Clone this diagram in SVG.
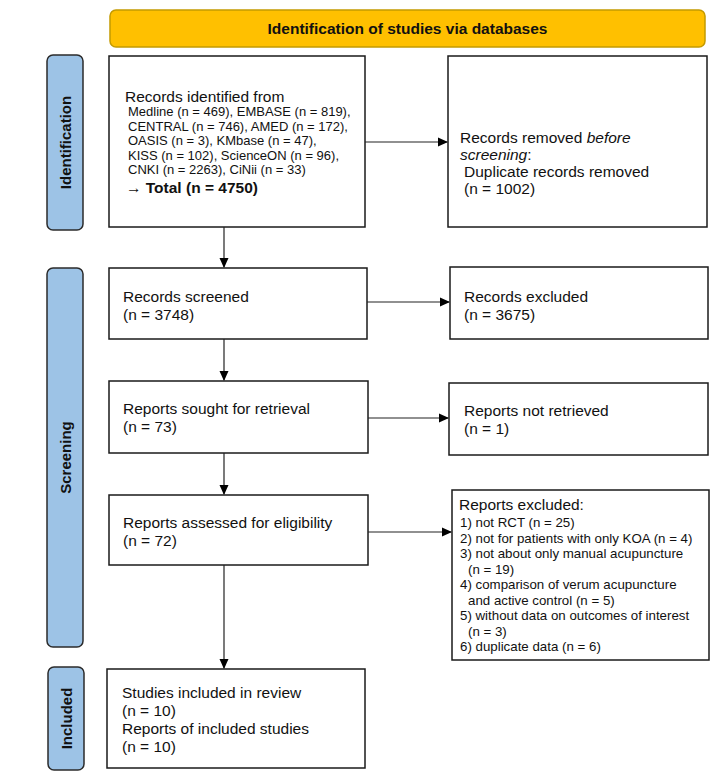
<svg xmlns="http://www.w3.org/2000/svg" width="721" height="778" viewBox="0 0 721 778">
<style>
.box{fill:#fff;stroke:#1a1a1a;stroke-width:1.5}
.side{fill:#9DC3E6;stroke:#2b2b2b;stroke-width:1.5}
.hdr{fill:#FFC000;stroke:#C49A00;stroke-width:1.5}
.t{font-family:"Liberation Sans",Arial,sans-serif;font-size:15.5px;fill:#111}
.s{font-family:"Liberation Sans",Arial,sans-serif;font-size:13px;fill:#111}
.r{font-family:"Liberation Sans",Arial,sans-serif;font-size:13.3px;fill:#111}
.b{font-family:"Liberation Sans",Arial,sans-serif;font-size:15.5px;font-weight:bold;fill:#111}
.lab{font-family:"Liberation Sans",Arial,sans-serif;font-size:15px;font-weight:bold;fill:#111;text-anchor:middle}
.c{stroke:#222;stroke-width:1.2;fill:none;marker-end:url(#ah)}
</style>
<defs>
<marker id="ah" markerWidth="10" markerHeight="10" refX="9" refY="5" orient="auto" markerUnits="userSpaceOnUse">
<path d="M0,0.5 L10,5 L0,9.5 Z" fill="#000"/>
</marker>
</defs>
<rect width="721" height="778" fill="#fff"/>

<g id="header">
<rect class="hdr" x="110" y="10" width="595" height="37" rx="6"/>
<text class="b" x="407.5" y="34" text-anchor="middle">Identification of studies via databases</text>
</g>

<g id="side-identification">
<rect class="side" x="47" y="55" width="36" height="175" rx="6"/>
<text class="lab" transform="translate(70.5,142.5) rotate(-90)">Identification</text>
</g>
<g id="side-screening">
<rect class="side" x="47" y="268" width="36" height="379" rx="6"/>
<text class="lab" transform="translate(70.5,457.5) rotate(-90)">Screening</text>
</g>
<g id="side-included">
<rect class="side" x="48" y="667" width="36" height="103" rx="6"/>
<text class="lab" transform="translate(71.5,718.5) rotate(-90)">Included</text>
</g>

<g id="records-identified">
<rect class="box" x="109" y="56" width="256" height="171"/>
<text class="t" x="125" y="102">Records identified from</text>
<text class="s" x="128" y="116">Medline (n = 469), EMBASE (n = 819),</text>
<text class="s" x="128" y="130.5">CENTRAL (n = 746), AMED (n = 172),</text>
<text class="s" x="128" y="145">OASIS (n = 3), KMbase (n = 47),</text>
<text class="s" x="128" y="159.5">KISS (n = 102), ScienceON (n = 96),</text>
<text class="s" x="128" y="174">CNKI (n = 2263), CiNii (n = 33)</text>
<text class="b" x="126" y="193">→ Total (n = 4750)</text>
</g>

<g id="records-removed">
<rect class="box" x="448" y="56" width="259" height="171"/>
<text class="t" x="460" y="143">Records removed <tspan font-style="italic">before</tspan></text>
<text class="t" x="460" y="160"><tspan font-style="italic">screening</tspan>:</text>
<text class="t" x="464" y="177">Duplicate records removed</text>
<text class="t" x="464" y="194">(n = 1002)</text>
</g>

<g id="records-screened">
<rect class="box" x="109" y="268" width="258" height="71"/>
<text class="t" x="123" y="302">Records screened</text>
<text class="t" x="123" y="320">(n = 3748)</text>
</g>

<g id="records-excluded">
<rect class="box" x="450" y="267" width="258" height="72"/>
<text class="t" x="464" y="302">Records excluded</text>
<text class="t" x="464" y="320">(n = 3675)</text>
</g>

<g id="reports-sought">
<rect class="box" x="109" y="381" width="259" height="72"/>
<text class="t" x="123" y="414">Reports sought for retrieval</text>
<text class="t" x="123" y="432">(n = 73)</text>
</g>

<g id="reports-not-retrieved">
<rect class="box" x="449" y="383" width="259" height="72"/>
<text class="t" x="464" y="416">Reports not retrieved</text>
<text class="t" x="464" y="434">(n = 1)</text>
</g>

<g id="reports-assessed">
<rect class="box" x="109" y="495" width="259" height="70"/>
<text class="t" x="123" y="528">Reports assessed for eligibility</text>
<text class="t" x="123" y="546">(n = 72)</text>
</g>

<g id="reports-excluded">
<rect class="box" x="452" y="490" width="257" height="170"/>
<text class="t" x="459" y="510">Reports excluded:</text>
<text class="r" x="460" y="527">1) not RCT (n = 25)</text>
<text class="r" x="460" y="542.5">2) not for patients with only KOA (n = 4)</text>
<text class="r" x="460" y="558">3) not about only manual acupuncture</text>
<text class="r" x="468" y="573.5">(n = 19)</text>
<text class="r" x="460" y="589">4) comparison of verum acupuncture</text>
<text class="r" x="468" y="604.5">and active control (n = 5)</text>
<text class="r" x="460" y="620">5) without data on outcomes of interest</text>
<text class="r" x="468" y="635.5">(n = 3)</text>
<text class="r" x="460" y="651">6) duplicate data (n = 6)</text>
</g>

<g id="studies-included">
<rect class="box" x="107" y="669" width="258" height="99"/>
<text class="t" x="122" y="698">Studies included in review</text>
<text class="t" x="122" y="716">(n = 10)</text>
<text class="t" x="122" y="734">Reports of included studies</text>
<text class="t" x="122" y="752">(n = 10)</text>
</g>

<g id="connectors">
<line class="c" x1="365" y1="142" x2="447" y2="142"/>
<line class="c" x1="224" y1="227" x2="224" y2="267"/>
<line class="c" x1="367" y1="302" x2="449" y2="302"/>
<line class="c" x1="224" y1="339" x2="224" y2="380"/>
<line class="c" x1="368" y1="418" x2="448" y2="418"/>
<line class="c" x1="224" y1="453" x2="224" y2="494"/>
<line class="c" x1="368" y1="532" x2="451" y2="532"/>
<line class="c" x1="224" y1="565" x2="224" y2="668"/>
</g>
</svg>
